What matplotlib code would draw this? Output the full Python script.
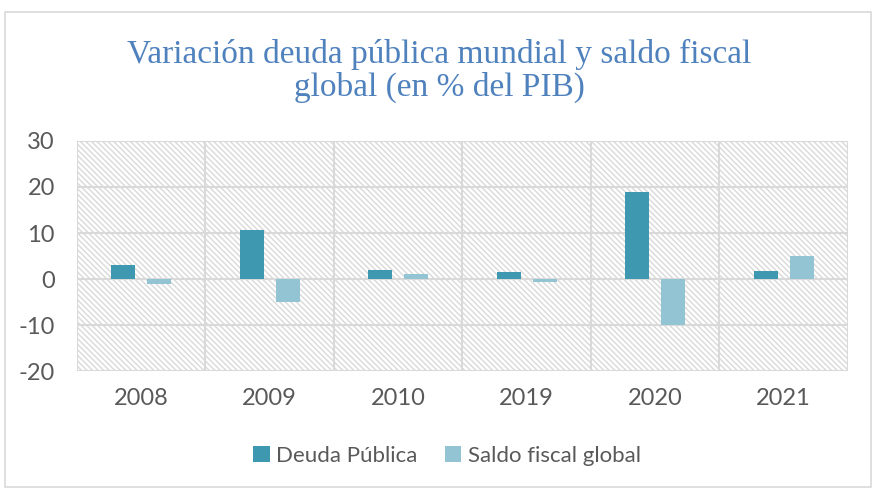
import matplotlib
matplotlib.use("Agg")
import matplotlib.pyplot as plt
import numpy as np
from matplotlib.patches import Rectangle

years = ["2008", "2009", "2010", "2019", "2020", "2021"]
deuda = [3.0, 10.6, 2.0, 1.5, 18.9, 1.7]
saldo = [-1.0, -4.9, 1.0, -0.7, -10.0, 5.0]
series_names = ["Deuda Pública", "Saldo fiscal global"]

c_deuda = "#3E98B0"
c_saldo = "#92C4D4"
grid_c = "#D9D9D9"
txt_c = "#595959"

plt.rcParams['hatch.color'] = "#E0E0E0"
plt.rcParams['hatch.linewidth'] = 1.0
plt.rcParams['axes.unicode_minus'] = False

fig = plt.figure(figsize=(8.78, 4.9), dpi=100)
fig.patch.set_facecolor("white")
ax = fig.add_axes([77/878, 1-371/490, (848-77)/878, (371-141)/490])

n = len(years)
ax.set_xlim(0, n)
ax.set_ylim(-20, 30)
ax.add_patch(Rectangle((0, -20), n, 50, facecolor="white", edgecolor=grid_c,
                       hatch="\\\\\\\\\\\\", linewidth=0, zorder=0))
x = np.arange(n) + 0.5
w = 0.19
off = 0.14
ax.bar(x - off, deuda, w, color=c_deuda, zorder=3, label=series_names[0])
ax.bar(x + off, saldo, w, color=c_saldo, zorder=3, label=series_names[1])

for yv in range(-20, 31, 10):
    ax.axhline(yv, color=grid_c, lw=1.5, zorder=1)
for xv in range(0, n + 1):
    ax.axvline(xv, color=grid_c, lw=1.5, zorder=1)
for s in ax.spines.values():
    s.set_visible(False)

ax.set_yticks(range(-20, 31, 10))
ax.set_xticks(x)
ax.set_xticklabels(years)
ax.tick_params(length=0, labelsize=17, colors=txt_c)
ax.tick_params(axis="y", pad=16)
ax.tick_params(axis="x", pad=12)
for lab in ax.get_xticklabels() + ax.get_yticklabels():
    lab.set_family("Lato")
    lab.set_color(txt_c)

fig.text(0.5, 1-71/490, "Variación deuda pública mundial y saldo fiscal\nglobal (en % del PIB)",
         ha="center", va="center", fontsize=24, color="#4F81BD",
         family="Liberation Serif", linespacing=1.1)

leg = fig.legend(loc="center", bbox_to_anchor=(447/878, 1-456/490), ncol=2, frameon=False,
                 prop={"family": "Lato", "size": 16}, handlelength=0.75, handleheight=0.75,
                 columnspacing=1.2, handletextpad=0.3)
for t in leg.get_texts():
    t.set_color(txt_c)

fig.add_artist(Rectangle((5/878, 3/490), 866/878, 1-15/490, transform=fig.transFigure,
                         fill=False, edgecolor=grid_c, lw=1.2))

fig.savefig("out.png", dpi=100)
